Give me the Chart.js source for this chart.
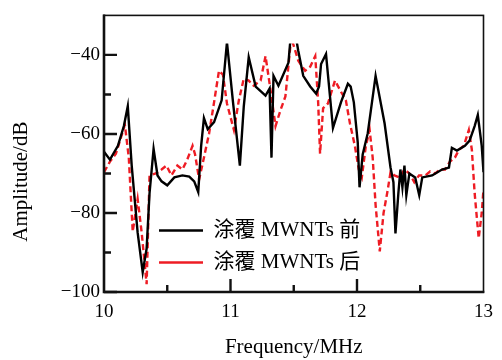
<!DOCTYPE html>
<html><head><meta charset="utf-8">
<script src="https://cdn.jsdelivr.net/npm/chart.js@4.4.0/dist/chart.umd.min.js"></script>
<style>html,body{margin:0;padding:0;background:#fff}#wrap{width:502px;height:360px}</style>
</head><body><div id="wrap"><canvas id="c" width="502" height="360"></canvas></div>
<script>
const seriesNames = ['涂覆 MWNTs 前', '涂覆 MWNTs 后'];
const beforeFreq = [10.0,10.047,10.11,10.157,10.188,10.219,10.266,10.306,10.337,10.36,10.392,10.423,10.455,10.50,10.556,10.62,10.674,10.713,10.745,10.768,10.79,10.82,10.87,10.93,10.972,11.02,11.074,11.105,11.144,11.199,11.277,11.309,11.324,11.34,11.379,11.458,11.489,11.536,11.575,11.63,11.677,11.70,11.716,11.755,11.81,11.873,11.928,11.95,11.975,12.006,12.02,12.045,12.085,12.147,12.218,12.265,12.288,12.304,12.327,12.343,12.359,12.375,12.39,12.414,12.46,12.492,12.516,12.594,12.672,12.727,12.75,12.79,12.853,12.89,12.93,12.955,12.986,13.0];
const beforeAmp = [-64.5,-66.5,-63,-58,-53,-68,-85,-95,-89,-75,-63.8,-70.5,-72,-73,-71,-70.5,-70.8,-72,-74.7,-63,-56,-58.8,-57,-51.5,-36.8,-52,-68,-53,-40.6,-48,-50.3,-48.5,-66,-45.3,-47.8,-42,-30.4,-39,-45.3,-48,-49.8,-48,-42.3,-39.8,-58.5,-52,-47.3,-48,-52,-62.2,-73.5,-65.2,-59.8,-45.3,-57.3,-68.5,-72.2,-85.2,-75,-69,-73.5,-68,-75.5,-70,-71,-75.5,-71,-70.5,-69,-68.5,-63.5,-64.2,-63,-61.7,-58,-55.2,-63,-69.7];
const afterFreq = [10.0,10.047,10.094,10.133,10.165,10.196,10.227,10.266,10.298,10.337,10.36,10.41,10.455,10.494,10.533,10.58,10.62,10.658,10.70,10.72,10.752,10.79,10.83,10.87,10.909,10.94,10.972,11.027,11.066,11.105,11.144,11.183,11.238,11.277,11.317,11.356,11.395,11.434,11.48,11.536,11.59,11.63,11.67,11.693,11.708,11.732,11.77,11.826,11.873,11.912,11.944,11.983,12.014,12.038,12.07,12.10,12.124,12.147,12.18,12.21,12.24,12.265,12.296,12.335,12.375,12.414,12.453,12.49,12.54,12.578,12.618,12.657,12.696,12.735,12.774,12.806,12.845,12.884,12.908,12.93,12.962,12.986,13.0];
const afterAmp = [-69.7,-67,-65,-61,-57.7,-66,-84.7,-76.5,-85,-98,-70.5,-70,-69,-68,-70.5,-68,-69,-66.5,-63,-65.2,-71.5,-66,-60,-52,-44,-45,-52.3,-59,-51.5,-46,-46.5,-47.8,-46.5,-40.3,-49,-58,-54,-50.5,-35.6,-41.5,-44,-43,-40.3,-52,-65,-53.5,-52.3,-46.5,-49.3,-51.5,-57.3,-63,-69,-71,-63,-59,-66,-78,-89.7,-80,-74.7,-69.7,-70.5,-71,-69,-70,-72.2,-70.5,-70.5,-69.5,-70,-69,-69,-67,-66,-64,-63,-59,-64,-75,-86.4,-80,-74];
const xTicks = [10, 11, 12, 13];
const xMinorTicks = [10.5, 11.5, 12.5];
const yTicks = [-100, -80, -60, -40];
const yMinorTicks = [-90, -70, -50];
const yTickLabels = ['\u2212100', '\u221280', '\u221260', '\u221240'];
const xTitle = 'Frequency/MHz';
const yTitle = 'Amplitude/dB';

const pts = (xs, ys) => xs.map((x, i) => ({x: x, y: ys[i]}));
const serif = "'Liberation Serif', 'Times New Roman', serif";

const framePlugin = {
  id: 'frame',
  afterLayout(chart) {
    const y = chart.scales.y;
    y.top += 28; y.bottom += 28;
    const lg = chart.legend;
    if (lg) {
      lg.left = 148; lg.right = 148 + 300;
      lg.top = 209; lg.bottom = lg.top + 100;
    }
  },
  afterDatasetsDraw(chart) {
    const {ctx, chartArea: a, scales: {x, y}} = chart;
    ctx.save();
    ctx.strokeStyle = '#111';
    ctx.lineWidth = 1.6;
    ctx.strokeRect(a.left, a.top, a.right - a.left, a.bottom - a.top);
    ctx.lineWidth = 2.6;
    ctx.beginPath();
    ctx.moveTo(a.left, a.top - 0.8);
    ctx.lineTo(a.left, a.bottom);
    ctx.lineTo(a.right + 0.8, a.bottom);
    ctx.stroke();
    ctx.lineWidth = 2.4;
    ctx.beginPath();
    const yt = (v, len) => { const p = y.getPixelForValue(v); ctx.moveTo(a.left, p); ctx.lineTo(a.left + len, p); };
    const xt = (v, len) => { const p = x.getPixelForValue(v); ctx.moveTo(p, a.bottom); ctx.lineTo(p, a.bottom - len); };
    yTicks.forEach(v => yt(v, 13));
    yMinorTicks.forEach(v => yt(v, 7));
    xTicks.forEach(v => { if (v > x.min && v < x.max) xt(v, 13); });
    xMinorTicks.forEach(v => xt(v, 7));
    ctx.stroke();
    ctx.restore();
  }
};

new Chart(document.getElementById('c'), {
  type: 'line',
  data: {
    datasets: [
      {label: seriesNames[0], data: pts(beforeFreq, beforeAmp), borderColor: '#000', backgroundColor: '#000',
       borderWidth: 2.4, pointRadius: 0, pointStyle: 'line', tension: 0, fill: false},
      {label: seriesNames[1], data: pts(afterFreq, afterAmp), borderColor: '#ee1c24', backgroundColor: '#ee1c24',
       borderWidth: 2.4, borderDash: [6, 3.5], pointRadius: 0, pointStyle: 'line', tension: 0, fill: false}
    ]
  },
  options: {
    responsive: false,
    animation: false,
    events: [],
    layout: {padding: {top: 11, right: 15, bottom: 0, left: 0}},
    plugins: {
      tooltip: {enabled: false},
      legend: {
        position: 'chartArea', align: 'start',
        labels: {usePointStyle: true, pointStyleWidth: 44, padding: 11, color: '#000',
                 font: {family: "'Liberation Serif', 'Noto Sans CJK SC', serif", size: 21}}
      }
    },
    scales: {
      x: {
        type: 'linear', min: 10, max: 13,
        afterBuildTicks: s => { s.ticks = xTicks.map(v => ({value: v})); },
        afterFit: s => { s.height = 68; },
        grid: {display: false, drawTicks: false},
        border: {display: false},
        ticks: {color: '#000', padding: 9, font: {family: serif, size: 19}, maxRotation: 0, callback: v => String(v)},
        title: {display: true, text: xTitle, color: '#000', font: {family: serif, size: 21}, padding: {top: 0, bottom: 0}}
      },
      y: {
        type: 'linear', min: -100, max: -30,
        afterBuildTicks: s => { s.ticks = yTicks.map(v => ({value: v})); },
        afterFit: s => { s.width = 104; },
        grid: {display: false, drawTicks: false},
        border: {display: false},
        ticks: {color: '#000', padding: 4, font: {family: serif, size: 19},
                callback: v => { const i = yTicks.indexOf(v); return i >= 0 ? yTickLabels[i] : ''; }},
        title: {display: true, text: yTitle, color: '#000', font: {family: serif, size: 21}, padding: {top: 9, bottom: 0}}
      }
    }
  },
  plugins: [framePlugin]
});
</script></body></html>
